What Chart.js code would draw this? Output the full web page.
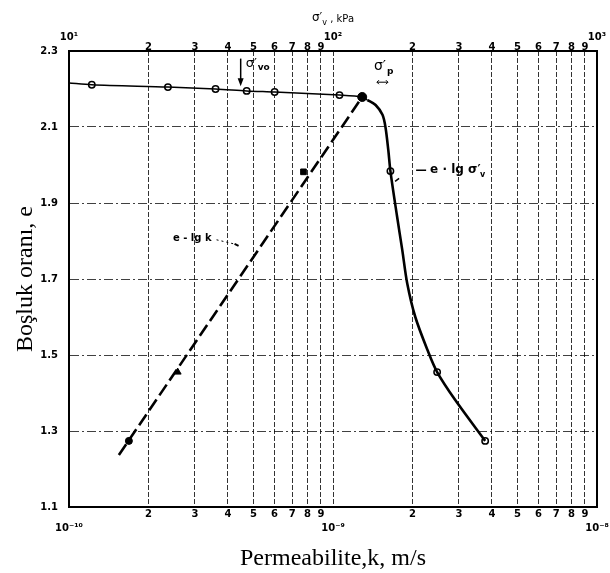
<!DOCTYPE html>
<html>
<head>
<meta charset="utf-8">
<script src="https://cdn.jsdelivr.net/npm/chart.js@4.4.0/dist/chart.umd.min.js"></script>
<style>
  html, body { margin: 0; padding: 0; background: #fff; }
</style>
</head>
<body>
<canvas id="chart" width="610" height="573"></canvas>
<script>
// e - lg sigma'v (top axis, kPa): measured points
const sigmaTest = [12.2, 23.7, 35.9, 47.1, 60.1, 105.8, 165, 248, 377];
const eTest = [2.211, 2.205, 2.200, 2.195, 2.192, 2.184, 1.984, 1.455, 1.274];
// the drawn curve through them
const sigmaCurve = [10, 12.2, 23.7, 35.9, 47.1, 60.1, 105.8, 129, 135, 145, 154, 158, 162, 165, 175, 183, 191, 205, 228, 248, 290, 377];
const eCurve = [2.216, 2.211, 2.205, 2.200, 2.195, 2.192, 2.184, 2.179, 2.171, 2.158, 2.132, 2.100, 2.039, 1.984, 1.863, 1.776, 1.689, 1.600, 1.513, 1.455, 1.382, 1.274];

// e - lg k (bottom axis, m/s)
const kLine = [1.545e-10, 1.29e-9];
const eLine = [1.237, 2.179];
const kTest = [1.686e-10, 2.58e-10, 7.73e-10, 1.29e-9];
const eK = [1.274, 1.455, 1.982, 2.179];

// axes
const kTicks = [1e-10, 2e-10, 3e-10, 4e-10, 5e-10, 6e-10, 7e-10, 8e-10, 9e-10,
  1e-9, 2e-9, 3e-9, 4e-9, 5e-9, 6e-9, 7e-9, 8e-9, 9e-9, 1e-8];
const kLabels = ['10⁻¹⁰', '2', '3', '4', '5', '6', '7', '8', '9',
  '10⁻⁹', '2', '3', '4', '5', '6', '7', '8', '9', '10⁻⁸'];
const sigmaTicks = [10, 20, 30, 40, 50, 60, 70, 80, 90,
  100, 200, 300, 400, 500, 600, 700, 800, 900, 1000];
const sigmaLabels = ['10¹', '2', '3', '4', '5', '6', '7', '8', '9',
  '10²', '2', '3', '4', '5', '6', '7', '8', '9', '10³'];
const eTicks = [1.1, 1.3, 1.5, 1.7, 1.9, 2.1, 2.3];

const tickFont = { family: 'DejaVu Sans', size: 10, weight: 'bold' };

// text and arrows drawn on top of the chart
const notes = {
  id: 'notes',
  afterDraw(chart) {
    const c = chart.ctx;
    const xs = chart.scales.x2;
    const ys = chart.scales.y;
    c.save();
    c.fillStyle = '#000';
    c.strokeStyle = '#000';
    c.textBaseline = 'middle';

    // top axis title
    const tx = xs.getPixelForValue(100);
    c.font = '12px DejaVu Sans';
    const w1 = c.measureText('σ′').width;
    c.font = '8px DejaVu Sans';
    const w2 = c.measureText('v').width;
    c.font = '10px DejaVu Sans';
    const w3 = c.measureText(' , kPa').width;
    let sx = tx - (w1 + w2 + w3) / 2;
    c.textAlign = 'left';
    c.font = '12px DejaVu Sans';
    c.fillText('σ′', sx, 18);
    c.font = '8px DejaVu Sans';
    c.fillText('v', sx + w1, 23);
    c.font = '10px DejaVu Sans';
    c.fillText(' , kPa', sx + w1 + w2, 19);

    // sigma'vo arrow
    const ax = xs.getPixelForValue(44.7);
    const ay0 = ys.getPixelForValue(2.28);
    const ay1 = ys.getPixelForValue(2.207);
    c.lineWidth = 1.5;
    c.beginPath();
    c.moveTo(ax, ay0);
    c.lineTo(ax, ay1 - 6);
    c.stroke();
    c.beginPath();
    c.moveTo(ax - 3, ay1 - 8);
    c.lineTo(ax + 3, ay1 - 8);
    c.lineTo(ax, ay1);
    c.closePath();
    c.fill();
    c.font = '13px DejaVu Sans';
    c.fillText('σ′', ax + 5, ay0 + 5);
    c.font = 'bold 9px DejaVu Sans';
    c.fillText('vo', ax + 17, ay0 + 9);

    // sigma'p label
    const px = xs.getPixelForValue(148);
    const py = ys.getPixelForValue(2.26);
    c.font = '14px DejaVu Sans';
    c.fillText('σ′', px - 4, py);
    c.font = 'bold 9px DejaVu Sans';
    c.fillText('p', px + 9, py + 5);
    c.lineWidth = 1;
    const dy = py + 16;
    c.beginPath();
    c.moveTo(px - 1, dy);
    c.lineTo(px + 10, dy);
    c.moveTo(px + 1, dy - 2);
    c.lineTo(px - 1, dy);
    c.lineTo(px + 1, dy + 2);
    c.moveTo(px + 8, dy - 2);
    c.lineTo(px + 10, dy);
    c.lineTo(px + 8, dy + 2);
    c.stroke();

    // e - lg sigma'v label
    const lx = xs.getPixelForValue(178);
    const ly = ys.getPixelForValue(1.965);
    c.lineWidth = 1.5;
    c.beginPath();
    c.moveTo(lx - 4, ly + 3);
    c.lineTo(lx, ly);
    c.moveTo(lx + 17, ly - 8);
    c.lineTo(lx + 27, ly - 8);
    c.stroke();
    c.font = 'bold 12px DejaVu Sans';
    c.fillText('e · lg σ′', lx + 31, ly - 8);
    c.font = 'bold 8px DejaVu Sans';
    c.fillText('v', lx + 31 + c.measureText('e · lg σ′').width * 1.48, ly - 3);

    // e - lg k label
    const kx = chart.scales.x.getPixelForValue(4.35e-10);
    const ky = ys.getPixelForValue(1.79);
    c.font = 'bold 10px DejaVu Sans';
    c.textAlign = 'right';
    c.fillText('e - lg k', kx - 26, ky - 6);
    c.lineWidth = 1;
    c.setLineDash([2, 3]);
    c.beginPath();
    c.moveTo(kx - 21, ky - 5);
    c.lineTo(kx - 4, ky - 1);
    c.stroke();
    c.setLineDash([]);
    c.lineWidth = 2;
    c.beginPath();
    c.moveTo(kx - 3, ky - 1);
    c.lineTo(kx + 1, ky + 1);
    c.stroke();
    c.restore();
  }
};

new Chart(document.getElementById('chart'), {
  type: 'scatter',
  data: {
    datasets: [
      {
        label: 'e - lg σv curve',
        xAxisID: 'x2',
        data: sigmaCurve.map((s, i) => ({ x: s, y: eCurve[i] })),
        showLine: true,
        borderColor: '#000',
        borderWidth: 2,
        pointRadius: 0,
        tension: 0.3,
        segment: {
          borderWidth: ctx => (ctx.p1.parsed.y > 2.17 ? 1.5 : 2.6)
        }
      },
      {
        label: 'e - lg σv tests',
        xAxisID: 'x2',
        data: sigmaTest.map((s, i) => ({ x: s, y: eTest[i] })),
        showLine: false,
        pointStyle: 'circle',
        pointRadius: 3.2,
        pointBackgroundColor: '#fff',
        pointBorderColor: '#000',
        pointBorderWidth: 1.5
      },
      {
        label: 'e - lg k line',
        xAxisID: 'x',
        data: kLine.map((k, i) => ({ x: k, y: eLine[i] })),
        showLine: true,
        borderColor: '#000',
        borderWidth: 2.6,
        borderDash: [13, 5],
        pointRadius: 0
      },
      {
        label: 'e - lg k tests',
        xAxisID: 'x',
        data: kTest.map((k, i) => ({ x: k, y: eK[i] })),
        showLine: false,
        pointStyle: ['circle', 'triangle', 'rect', 'circle'],
        pointRadius: [3.5, 4, 4, 4.5],
        pointBackgroundColor: '#000',
        pointBorderColor: '#000',
        pointBorderWidth: 1
      }
    ]
  },
  options: {
    responsive: false,
    animation: false,
    devicePixelRatio: 1,
    layout: { padding: { left: 0, right: 13, top: 0, bottom: 0 } },
    plugins: {
      legend: { display: false },
      tooltip: { enabled: false }
    },
    scales: {
      x: {
        type: 'logarithmic',
        position: 'bottom',
        min: 1e-10,
        max: 1e-8,
        afterBuildTicks: s => { s.ticks = kTicks.map(v => ({ value: v })); },
        afterFit: s => { s.height = 66; },
        ticks: {
          autoSkip: false,
          maxRotation: 0,
          padding: 0,
          color: '#000',
          font: Object.assign({ lineHeight: 1.4 }, tickFont),
          callback: (v, i) => (kLabels[i].length > 1 ? ['', kLabels[i]] : kLabels[i])
        },
        grid: { color: 'rgba(0,0,0,0.8)', lineWidth: 1, drawTicks: false },
        border: { display: true, color: '#000', width: 2, dash: [5, 2] },
        title: {
          display: true,
          text: 'Permeabilite,k, m/s',
          color: '#000',
          font: { family: 'Liberation Serif', size: 24 },
          padding: { top: 0, bottom: 0 }
        }
      },
      x2: {
        type: 'logarithmic',
        position: 'top',
        min: 10,
        max: 1000,
        afterBuildTicks: s => { s.ticks = sigmaTicks.map(v => ({ value: v })); },
        afterFit: s => { s.height = 51; },
        ticks: {
          autoSkip: false,
          maxRotation: 0,
          padding: -1,
          color: '#000',
          font: Object.assign({ lineHeight: 1.0 }, tickFont),
          callback: (v, i) => (sigmaLabels[i].length > 1 ? [sigmaLabels[i], ''] : sigmaLabels[i])
        },
        grid: { display: false, drawTicks: false },
        border: { display: true, color: '#000', width: 2 }
      },
      y: {
        type: 'linear',
        position: 'left',
        min: 1.1,
        max: 2.3,
        afterBuildTicks: s => { s.ticks = eTicks.map(v => ({ value: v })); },
        afterFit: s => { s.width = 69; },
        ticks: {
          padding: 11,
          color: '#000',
          font: tickFont,
          callback: v => v.toFixed(1)
        },
        grid: { color: 'rgba(0,0,0,0.75)', lineWidth: 1, drawTicks: false },
        border: { display: true, color: '#000', width: 2, dash: [9, 3, 2, 3] },
        title: {
          display: true,
          text: 'Boşluk oranı, e',
          color: '#000',
          font: { family: 'Liberation Serif', size: 24 },
          padding: { top: 11, bottom: 0 }
        }
      },
      y2: {
        type: 'linear',
        position: 'right',
        min: 1.1,
        max: 2.3,
        afterFit: s => { s.width = 0; },
        ticks: { display: false },
        grid: { display: false, drawTicks: false },
        border: { display: true, color: '#000', width: 2 }
      }
    }
  },
  plugins: [notes]
});
</script>
</body>
</html>
